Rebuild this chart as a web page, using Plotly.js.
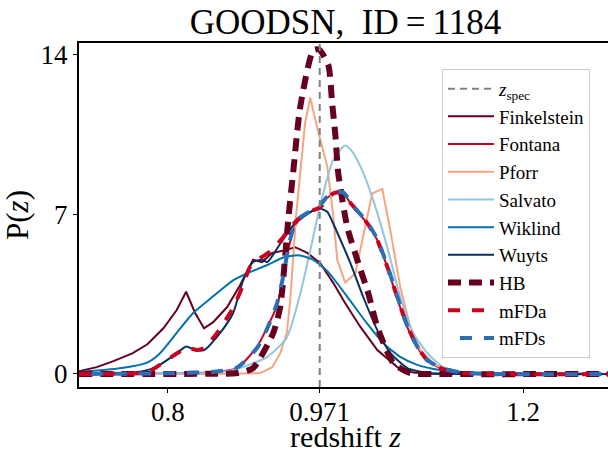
<!DOCTYPE html>
<html>
<head>
<meta charset="utf-8">
<script src="https://cdn.plot.ly/plotly-3.0.1.min.js"></script>
<style>
html, body { margin: 0; padding: 0; overflow: hidden; background: #fff; }
#chart { width: 612px; height: 453px; }
</style>
</head>
<body>
<div id="chart"></div>
<script>
// ---- data ----
const zSpec = 0.971;
const yRange = [-0.57, 14.49];
const xRange = [0.7, 1.3];
const xTickVals = [0.8, 0.971, 1.2];
const xTickText = ['0.8', '0.971', '1.2'];
const yTickVals = [0, 7, 14];
const yTickText = ['0', '7', '14'];

const finkelsteinZ = [0.70, 0.72, 0.738, 0.76, 0.777, 0.795, 0.810, 0.8206, 0.8307, 0.8408, 0.851, 0.8668, 0.8814, 0.896, 0.906, 0.9175, 0.930, 0.9434, 0.957, 0.9716, 0.986, 0.9997, 1.0166, 1.0358, 1.0583, 1.0763, 1.10, 1.30];
const finkelsteinP = [0.12, 0.3, 0.55, 0.9, 1.3, 2.0, 2.8, 3.6, 2.67, 2.0, 2.27, 2.93, 3.9, 5.0, 4.9, 5.3, 5.4, 5.55, 5.3, 4.85, 4.0, 3.1, 2.07, 1.05, 0.3, 0.06, 0.01, 0];

const fontanaZ = [0.70, 0.80, 0.85, 0.878, 0.9006, 0.912, 0.923, 0.930, 0.9355, 0.941, 0.949, 0.9637, 0.9716, 0.979, 0.9885, 0.9975, 1.0087, 1.0245, 1.0358, 1.047, 1.0583, 1.0696, 1.0808, 1.092, 1.1068, 1.1327, 1.30];
const fontanaP = [0.0, 0.02, 0.08, 0.26, 1.2, 2.05, 3.0, 4.24, 5.4, 6.3, 6.8, 7.17, 7.35, 7.7, 7.9, 7.9, 7.3, 6.6, 5.86, 4.68, 3.3, 2.05, 1.18, 0.6, 0.26, 0.04, 0];

const pforrZ = [0.70, 0.85, 0.904, 0.9175, 0.9265, 0.934, 0.9377, 0.941, 0.9443, 0.949, 0.9546, 0.9603, 0.968, 0.9794, 0.986, 0.9907, 0.9997, 1.011, 1.02, 1.0301, 1.0414, 1.0504, 1.0617, 1.073, 1.0842, 1.0989, 1.1146, 1.14, 1.30];
const pforrP = [0, 0.0, 0.04, 0.3, 0.9, 1.8, 3.2, 5.0, 6.9, 8.8, 11.0, 12.1, 10.8, 9.1, 7.0, 5.0, 4.0, 4.4, 6.0, 7.9, 8.1, 6.3, 3.8, 2.05, 1.05, 0.45, 0.15, 0.03, 0];

const salvatoZ = [0.70, 0.82, 0.851, 0.878, 0.912, 0.934, 0.949, 0.9603, 0.9716, 0.986, 0.9997, 1.0087, 1.0189, 1.0313, 1.047, 1.0617, 1.0763, 1.092, 1.110, 1.1406, 1.30];
const salvatoP = [0.0, 0.02, 0.05, 0.22, 0.75, 1.6, 3.5, 5.4, 7.4, 9.36, 10.0, 9.67, 8.9, 7.6, 5.55, 3.37, 1.8, 0.92, 0.3, 0.04, 0];

const wiklindZ = [0.70, 0.746, 0.7766, 0.791, 0.810, 0.8285, 0.851, 0.8735, 0.889, 0.912, 0.930, 0.9468, 0.9637, 0.9806, 1.0054, 1.0245, 1.0425, 1.0617, 1.0808, 1.1068, 1.14, 1.197, 1.30];
const wiklindP = [0.09, 0.25, 0.5, 0.9, 1.8, 2.67, 3.4, 4.1, 4.4, 4.77, 5.1, 5.2, 5.0, 4.46, 3.2, 2.2, 1.35, 0.75, 0.4, 0.17, 0.06, 0.02, 0.0];

const wuytsZ = [0.70, 0.7575, 0.78, 0.791, 0.810, 0.8206, 0.8307, 0.8408, 0.8589, 0.8735, 0.8848, 0.896, 0.906, 0.912, 0.9265, 0.941, 0.957, 0.969, 0.9794, 0.986, 0.994, 1.0054, 1.02, 1.0358, 1.0504, 1.0696, 1.092, 1.12, 1.30];
const wuytsP = [0.02, 0.05, 0.2, 0.4, 0.9, 1.2, 1.05, 1.05, 1.8, 2.67, 4.1, 4.9, 5.0, 4.9, 5.7, 6.5, 7.0, 7.26, 7.1, 6.6, 5.9, 4.86, 3.37, 1.92, 0.92, 0.26, 0.04, 0.01, 0];

const hbZ = [0.70, 0.85, 0.878, 0.896, 0.9186, 0.9265, 0.9355, 0.941, 0.949, 0.9637, 0.9704, 0.9808, 0.985, 0.9885, 0.9918, 1.002, 1.0144, 1.0256, 1.0358, 1.0538, 1.073, 1.107, 1.30];
const hbP = [0, 0.01, 0.04, 0.26, 1.79, 2.93, 6.74, 8.79, 11.68, 14.17, 14.2, 13.5, 11.85, 10.5, 8.8, 6.43, 4.86, 3.54, 2.06, 0.48, 0.04, 0, 0];

const mfdaZ = [0.70, 0.76, 0.7766, 0.791, 0.810, 0.8217, 0.833, 0.8408, 0.8555, 0.8735, 0.8848, 0.8927, 0.904, 0.9175, 0.930, 0.9456, 0.9637, 0.9716, 0.986, 0.994, 1.0087, 1.0245, 1.0358, 1.047, 1.0583, 1.0696, 1.0808, 1.092, 1.1068, 1.1327, 1.30];
const mfdaP = [0.0, 0.02, 0.06, 0.4, 0.9, 1.14, 1.05, 1.14, 1.8, 2.9, 3.9, 4.7, 5.07, 5.42, 6.0, 6.74, 7.17, 7.3, 7.9, 7.96, 7.35, 6.6, 5.86, 4.7, 3.35, 2.1, 1.2, 0.6, 0.26, 0.04, 0];

const mfdsZ = [0.70, 0.80, 0.85, 0.878, 0.9006, 0.912, 0.923, 0.930, 0.9355, 0.941, 0.949, 0.9637, 0.9716, 0.979, 0.9885, 0.9975, 1.0087, 1.0245, 1.0358, 1.047, 1.0583, 1.0696, 1.0808, 1.092, 1.1068, 1.1327, 1.30];
const mfdsP = [0.0, 0.03, 0.09, 0.28, 1.15, 2.0, 3.1, 4.3, 5.5, 6.35, 6.85, 7.2, 7.4, 7.75, 7.95, 7.95, 7.35, 6.65, 5.9, 4.75, 3.4, 2.1, 1.2, 0.62, 0.27, 0.05, 0];

// ---- styling ----
const FONT = "'Liberation Serif', 'Times New Roman', serif";

function solid(name, x, y, color, shape) {
  return {type: 'scatter', mode: 'lines', name: name, x: x, y: y, legendrank: 2,
    line: {color: color, width: 2, shape: shape || 'linear', smoothing: 0.6}};
}
function dashed(name, x, y, color, width, dash) {
  return {type: 'scatter', mode: 'lines', name: name, x: x, y: y, legendrank: 2,
    line: {color: color, width: width, dash: dash, shape: 'spline', smoothing: 0.6}};
}

const traces = [
  solid('Finkelstein', finkelsteinZ, finkelsteinP, '#67001f'),
  solid('Fontana', fontanaZ, fontanaP, '#ca0020', 'spline'),
  solid('Pforr', pforrZ, pforrP, '#f4a582'),
  solid('Salvato', salvatoZ, salvatoP, '#92c5de', 'spline'),
  solid('Wiklind', wiklindZ, wiklindP, '#0571b0', 'spline'),
  solid('Wuyts', wuytsZ, wuytsP, '#053061', 'spline'),
  dashed('HB', hbZ, hbP, '#67001f', 6, '13px,8px'),
  dashed('mFDa', mfdaZ, mfdaP, '#ca0020', 4, '12px,12px'),
  dashed('mFDs', mfdsZ, mfdsP, '#2c6fb4', 4, '0px,12px,12px,0px'),
  {type: 'scatter', mode: 'lines', name: '<i>z</i><sub>spec</sub>',
   x: [zSpec, zSpec], y: yRange, legendrank: 1,
   line: {color: '#808080', width: 2, dash: '7px,5px'}}
];

const layout = {
  width: 612, height: 453,
  margin: {l: 79, r: 0, t: 43, b: 66, pad: 0},
  paper_bgcolor: '#ffffff', plot_bgcolor: '#ffffff',
  font: {family: FONT, color: '#000000', size: 27},
  title: {text: 'GOODSN,\u2002ID\u2009=\u20091184', font: {family: FONT, size: 35, color: '#000'},
          x: 0.5, xref: 'paper', xanchor: 'center', y: 0.952, yref: 'container', yanchor: 'middle'},
  showlegend: true,
  legend: {x: 0.681, y: 0.925, xanchor: 'left', yanchor: 'top',
           bgcolor: 'rgba(255,255,255,0.85)', bordercolor: '#cccccc', borderwidth: 1,
           font: {family: FONT, size: 19, color: '#000'}, itemwidth: 46, traceorder: 'normal'},
  xaxis: {range: xRange, tickvals: xTickVals, ticktext: xTickText,
          showgrid: false, zeroline: false, showline: true, linecolor: '#000', linewidth: 2,
          mirror: true, ticks: 'outside', ticklen: 4, tickwidth: 1, tickcolor: '#000',
          ticklabelstandoff: -4,
          tickfont: {family: FONT, size: 27},
          title: {text: 'redshift <i>z</i>', font: {family: FONT, size: 30}, standoff: 13}},
  yaxis: {range: yRange, tickvals: yTickVals, ticktext: yTickText,
          showgrid: false, zeroline: false, showline: true, linecolor: '#000', linewidth: 2,
          mirror: true, ticks: 'outside', ticklen: 4, tickwidth: 1, tickcolor: '#000',
          tickfont: {family: FONT, size: 27},
          title: {text: 'P(<i>z</i>)', font: {family: FONT, size: 31}, standoff: 10}}
};

Plotly.newPlot('chart', traces, layout, {displayModeBar: false, staticPlot: true});
</script>
</body>
</html>
